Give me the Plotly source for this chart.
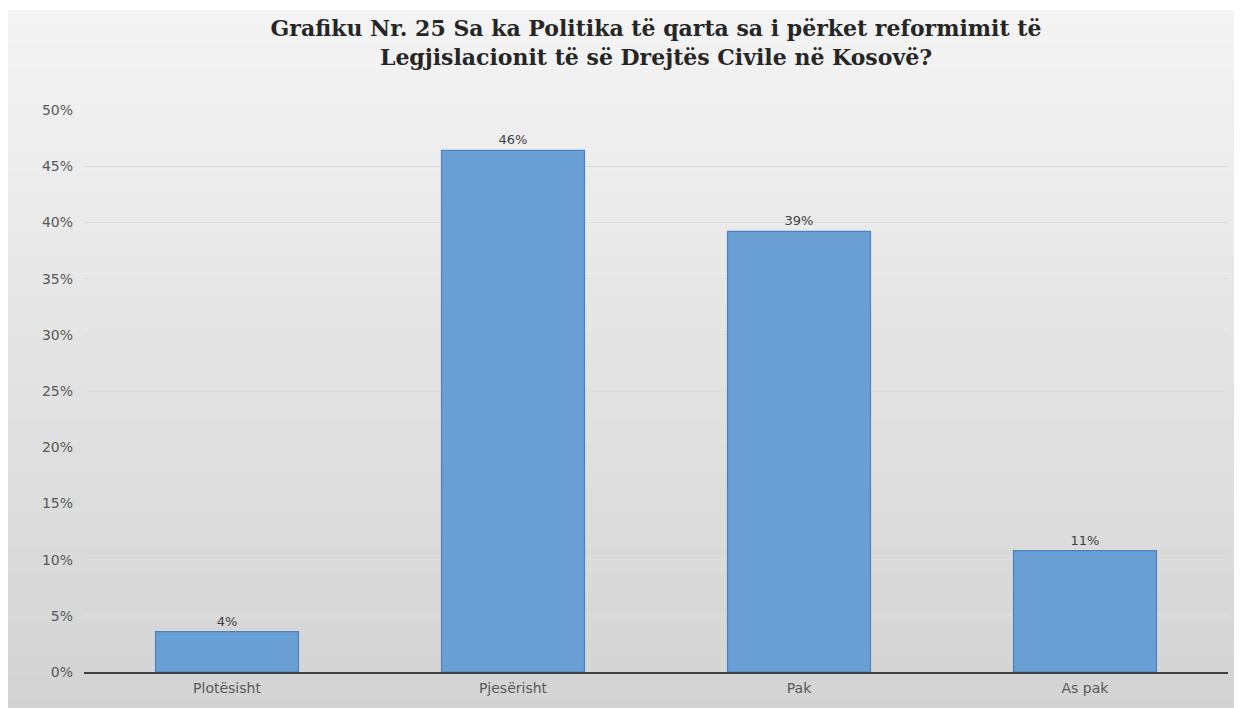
import plotly.graph_objects as go

categories = ["Plotësisht", "Pjesërisht", "Pak", "As pak"]
values = [0.036, 0.464, 0.392, 0.108]
y_ticks = [0, 0.05, 0.10, 0.15, 0.20, 0.25, 0.30, 0.35, 0.40, 0.45, 0.50]
title_text = ("Grafiku Nr. 25 Sa ka Politika të qarta sa i përket reformimit të<br>"
              "Legjislacionit të së Drejtës Civile në Kosovë?")

OFF = 8  # page body margin
W, H = 1242 - OFF, 708 - OFF
ML, MR, MT, MB = 84 - OFF, 14, 110 - OFF, 36
pw, ph = W - ML - MR, H - MT - MB

def px_to_paper_x(px):
    return (px - OFF - ML) / pw

def px_to_paper_y(py):
    return (H + OFF - MB - py) / ph

fig = go.Figure()
fig.add_trace(go.Bar(
    x=categories, y=values,
    width=0.5,
    marker=dict(color="#6a9fd5", line=dict(color="#4c82c0", width=1.2)),
    texttemplate="%{y:.0%}", textposition="outside",
    textfont=dict(family="DejaVu Sans", size=13, color="#404040"),
    cliponaxis=False,
))

# background gradient (horizontal bands)
shapes = []
n = 60
top_px, bot_px = 10, 712
c0, c1 = 0xf4, 0xd3
for i in range(n):
    y0p = top_px + (bot_px - top_px) * i / n
    y1p = top_px + (bot_px - top_px) * (i + 1) / n + 1
    t = (i + 0.5) / n
    c = int(round(c0 + (c1 - c0) * t))
    col = f"rgb({c},{c},{c})"
    shapes.append(dict(type="rect", xref="paper", yref="paper", layer="below",
                       x0=px_to_paper_x(7), x1=px_to_paper_x(1250),
                       y0=px_to_paper_y(y1p), y1=px_to_paper_y(y0p),
                       fillcolor=col, line=dict(width=0)))

fig.update_layout(
    width=W, height=H,
    margin=dict(l=ML, r=MR, t=MT, b=MB),
    paper_bgcolor="white",
    plot_bgcolor="rgba(0,0,0,0)",
    shapes=shapes,
    title=dict(text=title_text, x=0.5, xref="paper", xanchor="center",
               y=1 - (36 - OFF) / H, yanchor="middle",
               font=dict(family="DejaVu Serif", size=22, color="#262626", weight="bold")),
    showlegend=False,
    xaxis=dict(showline=True, linecolor="#404040", linewidth=2,
               tickfont=dict(family="DejaVu Sans", size=14, color="#595959"),
               ticks="", showgrid=False, ticklabelstandoff=2),
    yaxis=dict(range=[0, 0.5], tickvals=y_ticks, tickformat=".0%",
               tickfont=dict(family="DejaVu Sans", size=14, color="#595959"),
               gridcolor="#dedede", gridwidth=1, zeroline=False,
               showline=False, ticks="", ticklabelstandoff=10),
)

fig.write_html("out.html")
